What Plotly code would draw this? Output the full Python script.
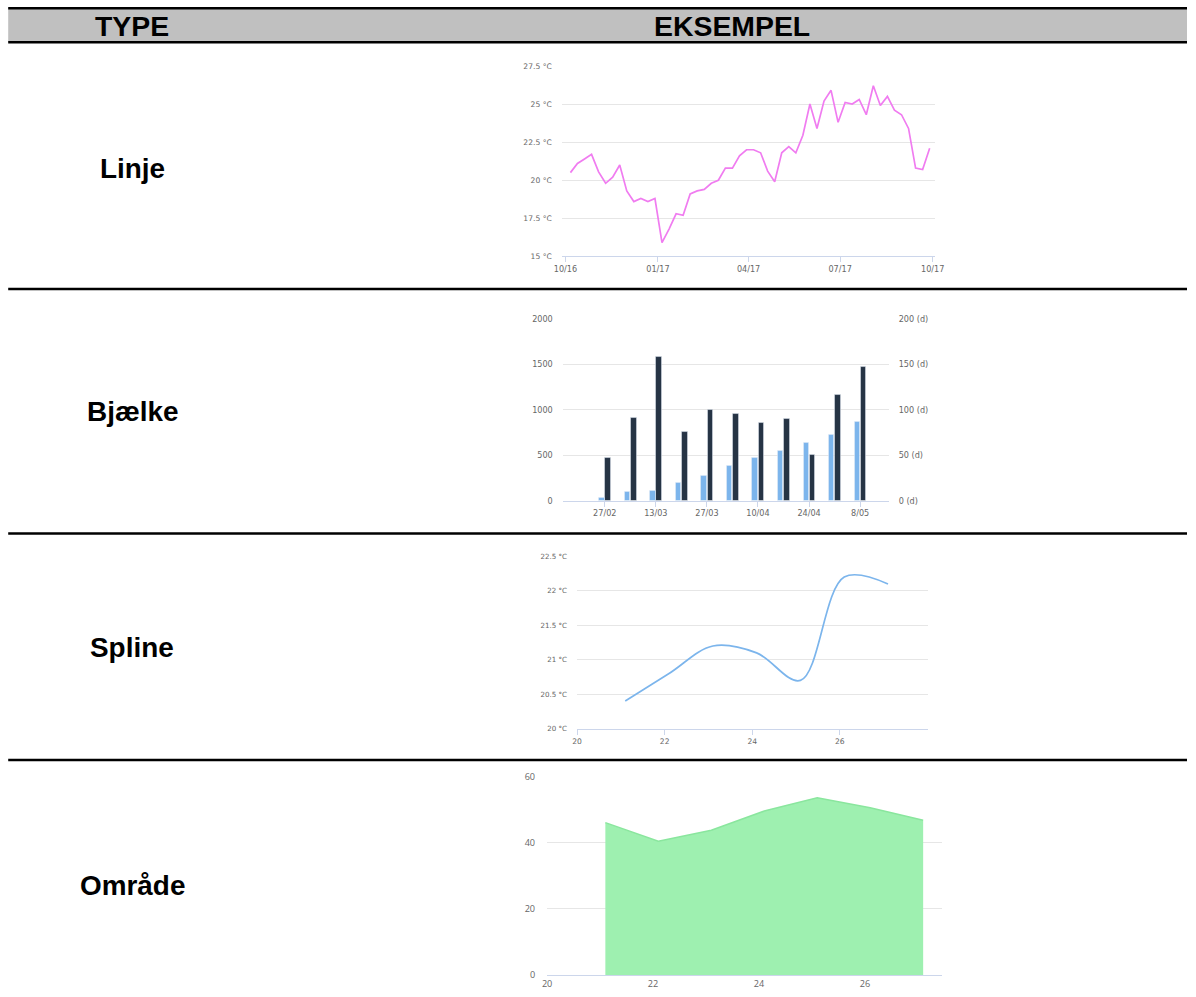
import pandas as pd
import plotly.graph_objects as go

# page is 1196x997; the body margin is removed in the written page
W, H = 1196, 997
# the snapshot comes back shrunk a little about its centre; undo that
SHOT_SCALE, SHOT_SHIFT = 0.986, 6.8

# --- data ---------------------------------------------------------------
row_labels = ["Linje", "Bjælke", "Spline", "Område"]

# Linje: weekly temperatures (°C), Oct 2016 - Sep 2017
line_dates = pd.date_range("2016-10-06", periods=52, freq="7D")
line_temps = [20.5, 21.1, 21.4, 21.7, 20.55, 19.8, 20.2, 21.0, 19.3, 18.6,
              18.8, 18.6, 18.8, 15.9, 16.8, 17.8, 17.7, 19.1, 19.3, 19.4,
              19.8, 20.0, 20.8, 20.8, 21.6, 22.0, 22.0, 21.8, 20.6, 19.9,
              21.8, 22.2, 21.8, 22.95, 25.0, 23.4, 25.2, 25.9, 23.8, 25.1,
              25.0, 25.3, 24.3, 26.2, 24.9, 25.5, 24.6, 24.3, 23.4, 20.8,
              20.7, 22.1]
line_ticks = ["2016-10-01", "2017-01-01", "2017-04-01", "2017-07-01", "2017-10-01"]
line_ticktext = ["10/16", "01/17", "04/17", "07/17", "10/17"]

# Bjælke: weekly columns, two series on two axes
bar_weeks = ["27/02", "06/03", "13/03", "20/03", "27/03", "03/04",
             "10/04", "17/04", "24/04", "01/05", "8/05"]
bar_ticks = ["27/02", "13/03", "27/03", "10/04", "24/04", "8/05"]
bar_dark = [470, 910, 1582, 758, 998, 958, 860, 903, 503, 1165, 1472]
bar_light_days = [2.9, 9.9, 11.0, 19.8, 27.9, 38.2, 47.7, 55.0, 63.1, 72.7, 87.0]

# Spline / Område: daily readings
day_x = [21.1, 22.1, 23.1, 24.1, 25.1, 26.1, 27.1]
day_ticks = [20, 22, 24, 26]
spline_temps = [20.4, 20.8, 21.2, 21.1, 20.7, 22.2, 22.1]
area_values = [46.1, 40.5, 43.8, 49.6, 53.6, 50.6, 46.8]


# --- helpers: target screen pixels -> paper fractions ---------------------
def fx(px):
    page = (px - SHOT_SHIFT) / SHOT_SCALE
    return max(0.0, page / W)


def fy(py):
    page = (py - SHOT_SHIFT) / SHOT_SCALE
    return min(1.0, 1 - page / H)


def fs(size):
    return round(size / SHOT_SCALE, 1)


GRID = "#e6e6e6"
AXIS = "#ccd6eb"
LBL = dict(family="DejaVu Sans, Open Sans, sans-serif", size=fs(8), color="#666666")
LBL_OS = dict(family="Open Sans, DejaVu Sans, sans-serif", size=fs(9), color="#666666")

fig = go.Figure()

# Linje
fig.add_trace(go.Scatter(x=line_dates, y=line_temps, mode="lines",
                         line=dict(color="#f07cf0", width=1.7),
                         xaxis="x", yaxis="y"))

# Bjælke
fig.add_trace(go.Bar(x=bar_weeks, y=bar_light_days, marker_color="#7cb5ec",
                     width=0.21, offset=-0.225, xaxis="x2", yaxis="y3"))
fig.add_trace(go.Bar(x=bar_weeks, y=bar_dark, marker_color="#263445",
                     width=0.225, offset=0.015, xaxis="x2", yaxis="y2"))

# Spline
fig.add_trace(go.Scatter(x=day_x, y=spline_temps, mode="lines",
                         line=dict(color="#7cb5ec", width=1.7, shape="spline", smoothing=1.0),
                         xaxis="x3", yaxis="y4"))

# Område
fig.add_trace(go.Scatter(x=day_x, y=area_values, mode="lines", fill="tozeroy",
                         fillcolor="#9ef0b0", line=dict(color="#8ae69e", width=1.5),
                         xaxis="x4", yaxis="y5"))

xbase = dict(showgrid=False, zeroline=False, showline=True, linecolor=AXIS, linewidth=1,
             ticks="outside", ticklen=5, tickcolor=AXIS, tickfont=LBL, fixedrange=True)
ybase = dict(showgrid=True, gridcolor=GRID, gridwidth=1, zeroline=False, showline=False,
             tickfont=LBL, ticklabelstandoff=9, fixedrange=True)

fig.update_layout(
    width=W, height=H,
    margin=dict(l=0, r=0, t=0, b=0),
    paper_bgcolor="white", plot_bgcolor="white",
    showlegend=False,
    bargap=0,
    # Linje
    xaxis=dict(xbase, domain=[fx(560.7), fx(934)], anchor="y", type="date",
               range=["2016-09-27 10:00", "2017-10-03 07:00"],
               tickvals=line_ticks, ticktext=line_ticktext),
    yaxis=dict(ybase, domain=[fy(256), fy(65.7)], anchor="x", range=[15, 27.5],
               dtick=2.5, tick0=15, ticksuffix=" °C", tickfont=dict(LBL, size=fs(7.5))),
    # Bjælke
    xaxis2=dict(xbase, domain=[fx(561.7), fx(887.7)], anchor="y2", type="category",
                range=[-1.645, 11.12], tickvals=bar_ticks, ticktext=bar_ticks),
    yaxis2=dict(ybase, domain=[fy(500), fy(318.3)], anchor="x2", range=[0, 2000],
                dtick=500),
    yaxis3=dict(ybase, overlaying="y2", side="right", anchor="x2", range=[0, 200],
                dtick=50, ticksuffix=" (d)", showgrid=False),
    # Spline
    xaxis3=dict(xbase, domain=[fx(576), fx(927.3)], anchor="y4", range=[20, 28.02],
                tickvals=day_ticks, tickfont=dict(LBL, size=fs(7.5))),
    yaxis4=dict(ybase, domain=[fy(727.7), fy(555.7)], anchor="x3", range=[20, 22.5],
                dtick=0.5, tick0=20, ticksuffix=" °C", tickfont=dict(LBL, size=fs(7))),
    # Område
    xaxis4=dict(xbase, domain=[fx(546), fx(940.7)], anchor="y5", range=[20, 27.45],
                tickvals=day_ticks, ticks="", tickfont=LBL_OS),
    yaxis5=dict(ybase, domain=[fy(974), fy(775.7)], anchor="x4", range=[0, 60],
                dtick=20, tickfont=LBL_OS, ticklabelstandoff=11),
)

# table frame: header band and row rules
fig.add_shape(type="rect", xref="paper", yref="paper", x0=fx(7), x1=1, y0=fy(42), y1=fy(7.5),
              fillcolor="#c0c0c0", line_width=0, layer="below")
for y_rule in [8, 42, 288.5, 532.7, 759]:
    fig.add_shape(type="line", xref="paper", yref="paper", x0=fx(7), x1=1,
                  y0=fy(y_rule), y1=fy(y_rule), line=dict(color="black", width=2.5))

HEAD = dict(family="Liberation Sans, Arial, sans-serif", size=fs(28), color="black")
fig.add_annotation(x=fx(130.5), y=fy(26), text="<b>TYPE</b>", xref="paper", yref="paper",
                   showarrow=False, font=HEAD, xanchor="center", yanchor="middle")
fig.add_annotation(x=fx(730.5), y=fy(26), text="<b>EKSEMPEL</b>", xref="paper", yref="paper",
                   showarrow=False, font=HEAD, xanchor="center", yanchor="middle")

for label, y_mid in zip(row_labels, [168, 411, 647, 884]):
    fig.add_annotation(x=fx(131), y=fy(y_mid), text=f"<b>{label}</b>", xref="paper", yref="paper",
                       showarrow=False, font=dict(HEAD, size=fs(27.5)),
                       xanchor="center", yanchor="middle")

# drop the default body margin so the figure sits flush with the window
fig.write_html("out.html", config={"displayModeBar": False},
               post_script="document.body.style.margin='0';")
